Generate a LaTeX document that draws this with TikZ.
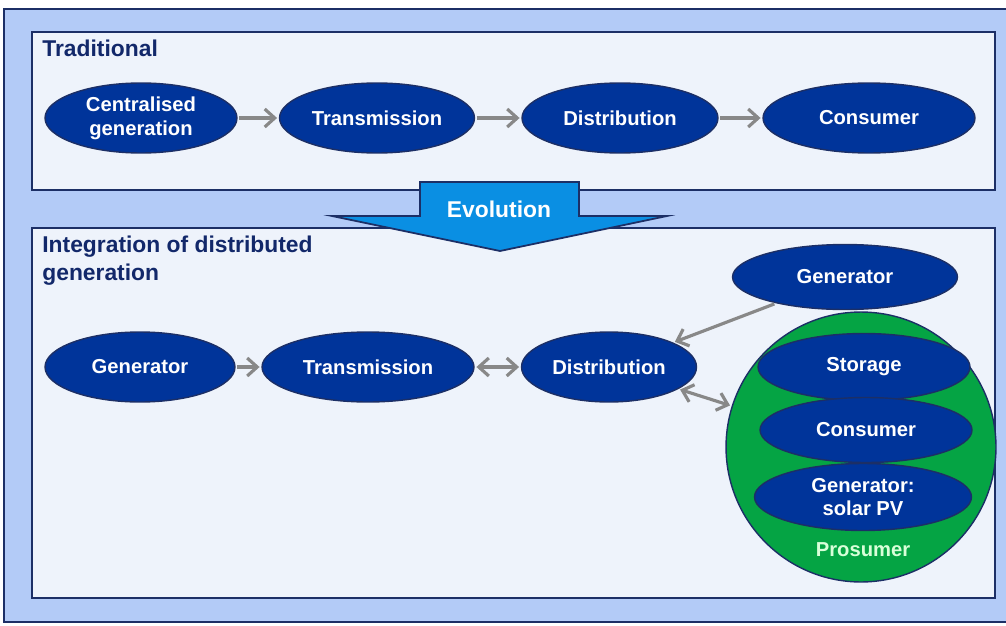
\documentclass[tikz,border=0pt]{standalone}
\usepackage{fontspec}
\setmainfont{Liberation Sans}
\usepackage{xcolor}
\usepackage{tikz}
\usetikzlibrary{arrows.meta, positioning, shapes.geometric}
\definecolor{frameblue}{HTML}{B3CBF7}
\definecolor{paneblue}{HTML}{EEF3FB}
\definecolor{navyline}{HTML}{1C2F66}
\definecolor{navytext}{HTML}{12286A}
\definecolor{navyfill}{HTML}{00349A}
\definecolor{evoblue}{HTML}{0A8FE3}
\definecolor{prosgreen}{HTML}{05A444}
\definecolor{linkgray}{HTML}{888888}

\begin{document}
\begin{tikzpicture}[
            x=0.02cm, y=-0.02cm,
            >={Straight Barb[length=2mm, width=3.6mm, line width=1.8pt]},
            pane/.style={draw=navyline, line width=1.2pt, fill=paneblue},
            unit/.style={ellipse, draw=navyline, line width=0.8pt, fill=navyfill, text=white, font=\bfseries\fontsize{11.5}{13.5}\selectfont, inner sep=0pt, align=center},
            title/.style={anchor=north west, text=navytext, font=\bfseries\fontsize{13}{15.5}\selectfont, align=left, inner sep=0pt},
            link/.style={->, draw=linkgray, line width=1.8pt, shorten >=1pt, shorten <=1pt},
            duplex/.style={<->, draw=linkgray, line width=1.8pt, shorten >=1pt, shorten <=1pt}
        ]

% Frames
            \useasboundingbox (0,0) rectangle (1006,625);
            \fill[white] (0,0) rectangle (1006,625);
            \draw[fill=frameblue, draw=navyline, line width=1.2pt] (4,9) rectangle (1010,622);
            \draw[pane] (32,32) rectangle (995,190);
            \draw[pane] (32,228) rectangle (995,598);
            \node[title] (tradTitle) at (42,40) {Traditional};
            \node[title] (distTitle) at (42,236) {Integration of distributed\\generation};

% Evolution arrow
            \draw[fill=evoblue, draw=navyline, line width=1pt, line join=miter]
                (420,182) -- (579,182) -- (579,216) -- (667,216) -- (500,251) -- (332,216) -- (420,216) -- cycle;
            \node[text=white, font=\bfseries\fontsize{13}{15}\selectfont] (evo) at (499,209) {Evolution};

% Nodes: traditional chain
            \node[unit, minimum width=3.84cm, minimum height=1.4cm] (cgen) at (141,118) {Centralised\\generation};
            \node[unit, minimum width=3.9cm, minimum height=1.4cm] (trans) at (377,118) {Transmission};
            \node[unit, minimum width=3.92cm, minimum height=1.4cm] (dist) at (620,118) {Distribution};
            \node[unit, minimum width=4.24cm, minimum height=1.4cm] (cons) at (869,118) {Consumer};

% Nodes: distributed chain
            \node[unit, minimum width=3.8cm, minimum height=1.4cm] (gen) at (140,367) {Generator};
            \node[unit, minimum width=4.24cm, minimum height=1.4cm] (trans2) at (368,367) {Transmission};
            \node[unit, minimum width=3.5cm, minimum height=1.4cm] (dist2) at (609,367) {Distribution};
            \node[unit, minimum width=4.5cm, minimum height=1.3cm] (gen2) at (845,277) {Generator};

% Prosumer
            \node[circle, draw=navyline, line width=0.8pt, fill=prosgreen, minimum size=5.4cm, inner sep=0pt] (pros) at (861,447) {};
            \node[unit, minimum width=4.24cm, minimum height=1.34cm] (store) at (864,367) {Storage};
            \node[unit, minimum width=4.24cm, minimum height=1.3cm] (cons2) at (866,430) {Consumer};
            \node[unit, minimum width=4.34cm, minimum height=1.34cm] (solar) at (863,497) {Generator:\\solar PV};
            \node[text={green!15!white}, font=\bfseries\fontsize{11.5}{13.5}\selectfont] (prosLabel) at (863,550) {Prosumer};

% Edges
            \draw[link] (cgen) -- (trans);
            \draw[link] (trans) -- (dist);
            \draw[link] (dist) -- (cons);
            \draw[link] (gen) -- (trans2);
            \draw[duplex] (trans2) -- (dist2);
            \draw[link] (gen2) -- (dist2);
            \draw[duplex] (dist2) -- (pros);

        \end{tikzpicture}
\end{document}
